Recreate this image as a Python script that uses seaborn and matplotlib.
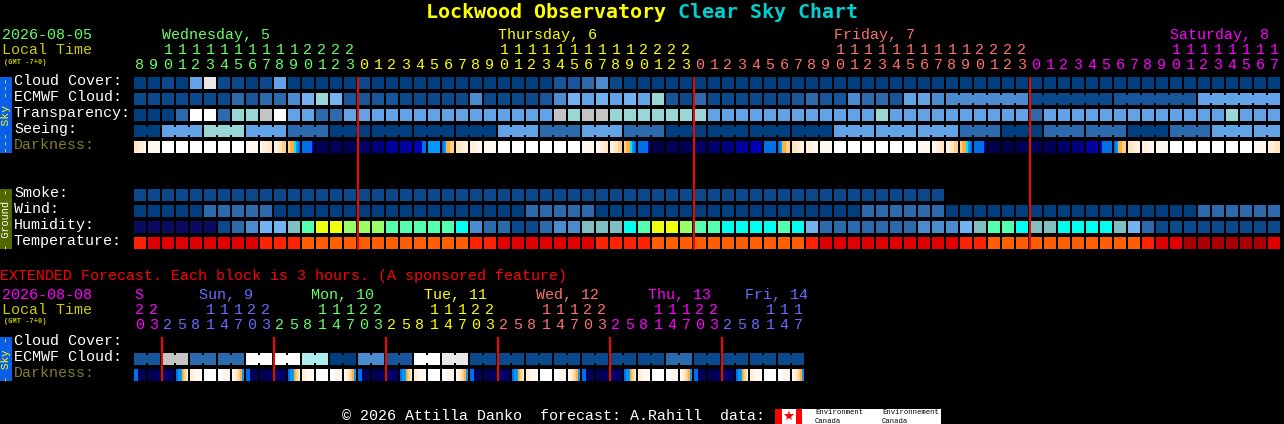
import numpy as np
import matplotlib
matplotlib.use("Agg")
import matplotlib.pyplot as plt
from matplotlib.colors import ListedColormap
from matplotlib.patches import Rectangle
import seaborn as sns

W, H = 1284, 424

# block colours, the level lists below index into these
BLOCK_COLORS = ['#003f7f', '#0a4a8c', '#17569a', '#2b6bad', '#4a8ccf', '#62a2e6', '#74b3f2',
                '#9ad6d6', '#c4c4c4', '#e8e8e8', '#ffffff', '#aeeded', '#0a0a60', '#80bfbf',
                '#55ffb0', '#00ffee', '#eeff11', '#99ff66', '#ff2200', '#e00000', '#ff5f00', '#a80000']
DARK_COLORS = ['#00004a', '#000058', '#000068', '#000080', '#0000a0', '#0000b8', '#0070e8', '#0098ff',
               '#00e0ff', '#ffb040', '#ffd080', '#ffe6c4', '#fff0dd', '#fff8f0', '#ffffff']

# hourly forecast
cloud_cover = [0, 0, 1, 0, 5, 9, 1, 1, 0, 1, 5, 0, 0, 0, 0, 0, 1, 0, 0, 0, 0,
               0, 0, 0, 0, 0, 0, 0, 0, 0, 2, 2, 3, 4, 1, 0, 0, 0, 0, 0, 0,
               0, 0, 0, 0, 0, 0, 0, 0, 0, 0, 0, 0, 0, 0, 0, 0, 0, 0, 0, 0,
               0, 0, 0, 0, 0, 0, 0, 0, 0, 0, 0, 0, 0, 0, 0, 0, 0, 0, 0, 0, 0]
ecmwf_cloud = [1, 1, 1, 1, 1, 1, 1, 3, 2, 3, 3, 4, 6, 7, 6, 2, 2, 2, 2, 1, 1,
               1, 1, 1, 4, 1, 1, 1, 1, 2, 4, 6, 5, 6, 5, 6, 5, 7, 2, 1, 3,
               1, 1, 1, 1, 1, 1, 2, 3, 2, 2, 4, 3, 3, 2, 5, 5, 4,
               4, 4, 4, 4, 4, 4, 1, 1, 1, 1, 1, 1, 2, 2, 2, 2, 2, 2, 5, 5, 5, 5, 5, 5]
transparency = [0, 0, 0, 3, 10, 10, 3, 7, 7, 8, 10, 5, 5, 3, 3, 5, 5, 5, 5, 5, 5,
                5, 5, 5, 5, 5, 5, 5, 5, 5, 8, 7, 8, 8, 7, 7, 7, 7, 7, 7, 7,
                5, 5, 5, 5, 5, 5, 5, 5, 5, 5, 5, 5, 7, 5, 5, 5, 5, 5, 5, 5, 5, 5, 5, 3,
                5, 5, 5, 5, 5, 5, 5, 5, 5, 5, 5, 5, 5, 7, 5, 5, 5]
seeing = [0, 0, 5, 5, 5, 7, 7, 7, 5, 5, 5, 3, 3, 3, 0, 0, 0, 0, 0, 0, 0, 0, 0,
          0, 0, 0, 5, 5, 5, 3, 3, 3, 5, 5, 5, 3, 3, 3, 0, 0, 0, 0, 0, 0, 0, 0, 0, 0, 0, 0,
          5, 5, 5, 5, 5, 5, 5, 5, 5, 3, 3, 3, 0, 0, 0, 3, 3, 3, 3, 3, 3, 0, 0, 0,
          3, 3, 3, 5, 5, 5, 5, 5]
darkness = [(11, 11, 12, 12, 12, 13), 13, 14, 14, 14, 14, 14, 14, 13, (13, 12, 12, 12, 11, 11),
            (12, 12, 11, 11, 10, 10), (10, 9, 9, 8, 7, 6), (6, 6, 6, 6, 6, 5), 1, 1, 1, 2, 3, 4, 4,
            (5, 5, 5, 5, 6, 6), 7, (6, 7, 9, 9, 10, 10), (11, 11, 11, 12, 12, 12), (12, 12, 12, 13, 13, 13), 13,
            14, 14, 14, 14, 14, 14, 13, (13, 13, 12, 12, 11, 11), (12, 12, 11, 11, 10, 10),
            (10, 9, 9, 8, 7, 6), (6, 6, 6, 6, 6, 5), 0, 1, 1, 2, 2, 3, 4, (4, 5, 5, 5, 5, 4), 6,
            (6, 7, 9, 9, 10, 10), (11, 11, 11, 12, 12, 12), (12, 12, 12, 13, 13, 13), 13, 14, 14,
            14, 14, 14, 14, 13, (13, 13, 12, 12, 11, 11), (12, 12, 11, 11, 10, 10),
            (10, 9, 9, 8, 7, 6), (6, 6, 6, 6, 6, 5), 0, 0, 1, 1, 1, 2, 3, 4, (5, 6, 6, 6, 6, 6),
            (6, 7, 9, 9, 10, 10), (11, 11, 11, 12, 12, 12), (12, 12, 12, 13, 13, 13), 13,
            14, 14, 14, 14, 14, 14, 13, (12, 12, 12, 11, 11, 11)]
smoke = [1] * 58
wind = [0, 0, 0, 0, 0, 3, 3, 3, 3, 3, 0, 0, 0, 0, 0, 0, 0, 0, 0, 0, 0,
        0, 0, 0, 0, 0, 0, 0, 3, 3, 3, 3, 3, 0, 0, 0, 0, 0, 0, 0, 0,
        0, 0, 0, 0, 0, 0, 0, 0, 0, 0, 0, 3, 3, 3, 3, 3, 3,
        0, 0, 0, 0, 0, 0, 0, 0, 0, 0, 0, 0, 0, 0, 0, 0, 0, 0, 3, 3, 3, 3, 3, 3]
humidity = [12, 12, 12, 12, 12, 12, 1, 3, 4, 6, 6, 13, 14, 16, 16, 17, 17, 17, 14, 14, 14,
            14, 14, 15, 4, 3, 3, 1, 1, 3, 4, 4, 13, 13, 13, 15, 14, 16, 16, 17, 14,
            14, 15, 15, 15, 15, 14, 15, 6, 3, 3, 3, 3, 3, 3, 3, 4, 4, 4, 6, 13,
            14, 14, 15, 13, 13, 15, 15, 15, 15, 13, 6, 3, 1, 1, 1, 1, 1, 1, 1, 1, 1]
temperature = [18, 19, 19, 19, 19, 19, 19, 19, 19, 18, 18, 18, 20, 20, 20, 20, 20, 20, 20, 20, 20,
               20, 20, 20, 18, 18, 19, 19, 19, 19, 19, 19, 19, 18, 18, 18, 18, 20, 20, 20, 20,
               20, 20, 20, 20, 20, 20, 20, 18, 19, 19, 19, 19, 19, 19, 19, 19, 19, 19, 18, 18,
               20, 20, 20, 20, 20, 20, 20, 20, 20, 20, 20, 18, 19, 19, 21, 21, 21, 21, 21, 21, 19]
hours = [8, 9, 10, 11, 12, 13, 14, 15, 16, 17, 18, 19, 20, 21, 22, 23] + list(range(24)) * 2 + list(range(18))

# extended forecast, 3 hour blocks
ext_ecmwf = [2, 2, 8, 8, 3, 3, 3, 3, 10, 10, 10, 10, 11, 11, 0, 0, 4, 4, 2, 2, 10, 10, 9, 9,
             1, 1, 1, 1, 1, 1, 1, 1, 1, 1, 1, 1, 1, 1, 3, 3, 1, 1, 1, 1, 1, 1, 1, 1]
ext_darkness_day = [(6, 6, 1, 1, 1, 1), 1, 2, (6, 7, 7, 9, 10, 11), (12, 12, 13, 13, 13, 14),
                    14, (14, 14, 13, 13, 13, 12), (13, 12, 11, 10, 9, 7)]
ext_darkness = ext_darkness_day * 6
ext_hours = [20, 23] + [2, 5, 8, 11, 14, 17, 20, 23] * 5 + [2, 5, 8, 11, 14, 17]

GREEN, YELLOW, SALMON, MAGENTA, VIOLET = '#66ff66', '#ffff00', '#ff7070', '#ff00ff', '#6a6aff'
OLIVE, DIM = '#cccc00', '#808020'
day_names = ['Wednesday, 5', 'Thursday, 6', 'Friday, 7', 'Saturday, 8']
day_starts = [162, 498, 834, 1170]
day_colors = [GREEN, YELLOW, SALMON, MAGENTA]
ext_names = ['S', 'Sun, 9', 'Mon, 10', 'Tue, 11', 'Wed, 12', 'Thu, 13', 'Fri, 14']
ext_starts = [134, 199, 311, 424, 536, 648, 745]
ext_colors = [MAGENTA, VIOLET, GREEN, YELLOW, SALMON, MAGENTA, VIOLET]
ext_hour_colors = [MAGENTA] * 2 + [VIOLET] * 8 + [GREEN] * 8 + [YELLOW] * 8 + [SALMON] * 8 + [MAGENTA] * 8 + [VIOLET] * 6

sns.set_theme(style='dark', rc={'figure.facecolor': 'black', 'axes.facecolor': 'black'})
plt.rcParams['font.family'] = ['Liberation Mono', 'DejaVu Sans Mono']

fig = plt.figure(figsize=(W / 100, H / 100), dpi=100, facecolor='black')

CELL, STRIPS = 14, 7  # one block is 6 strips of 2 px and one strip of gap


# each block becomes 6 strips wide, 6 strips high; joined blocks keep a narrower bridge
def block_matrix(values, n_cols, joins=()):
    m = np.full((6, n_cols * STRIPS), np.nan)
    for i, v in enumerate(values):
        m[:, i * STRIPS:i * STRIPS + 6] = v
    for i in joins:
        m[1:5, i * STRIPS + 6] = values[i]
    return m


def draw_row(values, top, n_cols, colors=BLOCK_COLORS, joins=()):
    m = block_matrix(values, n_cols, joins)
    ax = fig.add_axes([134 / W, 1 - (top + 12) / H, m.shape[1] * 2 / W, 12 / H])
    sns.heatmap(m, ax=ax, cmap=ListedColormap(colors), vmin=-0.5, vmax=len(colors) - 0.5,
                cbar=False, xticklabels=False, yticklabels=False, linewidths=0)
    ax.set_facecolor('black')
    return ax


# joins between hours that share one forecast block
ecmwf_joins = [i for i in range(58, 81) if (i - 58) % 6 != 5]
seeing_joins = [i for i in range(81) if i == 0 or (i - 2) % 3 != 2 and i >= 2]
ext_joins = list(range(0, 47, 2))

draw_row(cloud_cover, 77, 82)
draw_row(ecmwf_cloud, 93, 82, joins=ecmwf_joins)
draw_row(transparency, 109, 82)
draw_row(seeing, 125, 82, joins=seeing_joins)
draw_row(darkness, 141, 82, colors=DARK_COLORS)
draw_row(smoke, 189, 82)
draw_row(wind, 205, 82)
draw_row(humidity, 221, 82)
draw_row(temperature, 237, 82)
draw_row(ext_ecmwf, 353, 48, joins=ext_joins)
draw_row(ext_darkness, 369, 48, colors=DARK_COLORS)

# overlay in pixel coordinates for the text, side bars and midnight lines
ov = fig.add_axes([0, 0, 1, 1], zorder=10)
ov.set_xlim(0, W)
ov.set_ylim(H, 0)
ov.axis('off')


def label(x, y, s, color='white', size=10.8, **kw):
    ov.text(x, y - 0.7, s, color=color, fontsize=size, va='baseline', **kw)


label(426, 19, 'Lockwood Observatory', YELLOW, 14.4, fontweight='bold', family='DejaVu Sans Mono')
label(678, 19, 'Clear Sky Chart', '#00d0d0', 14.4, fontweight='bold', family='DejaVu Sans Mono')

label(2, 40, '2026-08-05', GREEN)
label(2, 55, 'Local Time', OLIVE)
label(4, 64.5, '(GMT -7+0)', OLIVE, 5, fontweight='bold')
for name, x, c in zip(day_names, day_starts, day_colors):
    label(x, 40, name, c)

for i, h in enumerate(hours):
    c = day_colors[0] if i < 16 else day_colors[1 + (i - 16) // 24]
    cx = 134 + CELL * i + 6
    label(cx, 70, str(h % 10), c, ha='center')
    if h >= 10:
        label(cx, 55, str(h // 10), c, ha='center')

for y, s, c in [(86, 'Cloud Cover:', 'white'), (102, 'ECMWF Cloud:', 'white'), (118, 'Transparency:', 'white'),
                (134, 'Seeing:', 'white'), (150, 'Darkness:', DIM), (198, 'Smoke:', 'white'), (214, 'Wind:', 'white'),
                (230, 'Humidity:', 'white'), (246, 'Temperature:', 'white'),
                (346, 'Cloud Cover:', 'white'), (362, 'ECMWF Cloud:', 'white'), (378, 'Darkness:', DIM)]:
    label(14, y, s, c)

label(0, 281, 'EXTENDED Forecast. Each block is 3 hours. (A sponsored feature)', '#ff0000')
label(2, 300, '2026-08-08', MAGENTA)
label(2, 315, 'Local Time', OLIVE)
label(4, 324, '(GMT -7+0)', OLIVE, 5, fontweight='bold')
for name, x, c in zip(ext_names, ext_starts, ext_colors):
    label(x, 300, name, c)
for i, (h, c) in enumerate(zip(ext_hours, ext_hour_colors)):
    cx = 134 + CELL * i + 6
    label(cx, 330, str(h % 10), c, ha='center')
    if h >= 10:
        label(cx, 315, str(h // 10), c, ha='center')

# side bars
for y0, y1, face, s, c, fs in [(77, 153, '#0a5fe8', '--- Sky ---', YELLOW, 8.2), (189, 249, '#4f6b00', '- Ground -', 'white', 7.4),
                               (337, 381, '#0a5fe8', '- Sky -', YELLOW, 7.8)]:
    ov.add_patch(Rectangle((0, y0), 12, y1 - y0, facecolor=face, edgecolor='none'))
    ov.text(6, (y0 + y1) / 2, s, color=c, fontsize=fs, rotation=90, ha='center', va='center')

# midnight lines
for d in range(3):
    ov.add_patch(Rectangle((134 + CELL * (16 + 24 * d) - 1, 77), 2, 173, facecolor='#ff0000', edgecolor='none'))
for d in range(6):
    ov.add_patch(Rectangle((134 + CELL * (2 + 8 * d) - 1, 337), 2, 44, facecolor='#ff0000', edgecolor='none'))

# footer and logos
label(342, 421, '\u00a9 2026 Attilla Danko  forecast: A.Rahill  data:')
ov.add_patch(Rectangle((775, 409), 166, 15, facecolor='white', edgecolor='none'))
ov.add_patch(Rectangle((775, 409), 7, 15, facecolor='#ff0000', edgecolor='none'))
ov.add_patch(Rectangle((796, 409), 6, 15, facecolor='#ff0000', edgecolor='none'))
ov.plot([789], [416], marker='*', color='#ff0000', markersize=8, markeredgewidth=0)
for x, s in [(815, 'Environment'), (882, 'Environnement')]:
    ov.text(x, 414, s, color='black', fontsize=5.2, va='baseline')
    ov.text(x, 423, 'Canada', color='black', fontsize=5.2, va='baseline')

fig.savefig('out.png', dpi=100, facecolor='black')
